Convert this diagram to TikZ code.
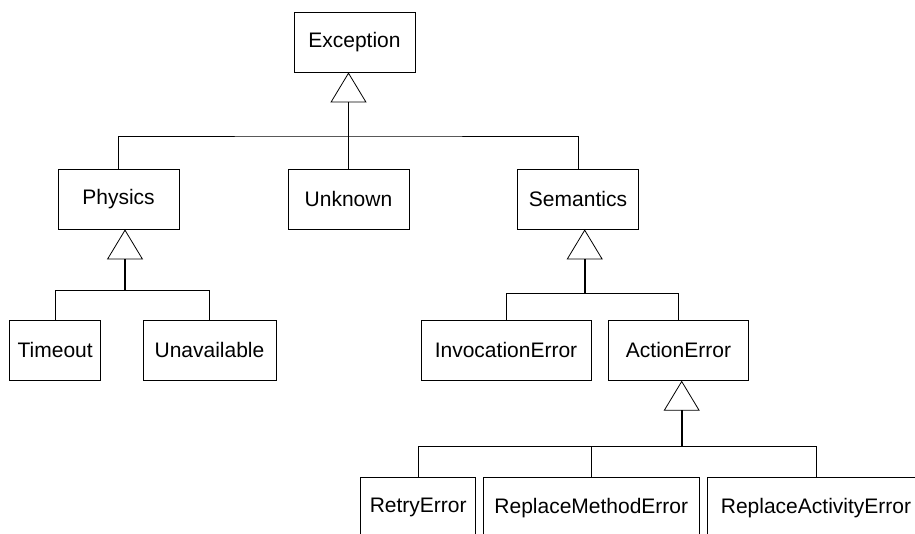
\documentclass[tikz,border=0pt]{standalone}
\usepackage{fontspec}
\setmainfont{Liberation Sans}
\usetikzlibrary{arrows.meta}
\tikzstyle{cls} = [draw=black, line width=0.6pt, rectangle, minimum height=45pt, inner sep=0pt, font={\fontsize{15.75}{18}\selectfont}]
\tikzstyle{bus} = [line width=0.6pt]
\tikzstyle{inh} = [line width=1.3pt, -{Triangle[open, width=27pt, length=22.5pt, line width=0.6pt]}]

\begin{document}
\begin{tikzpicture}[x=0.75pt, y=-0.75pt]
    \clip (0,0) rectangle (915,534);
    \fill[white] (0,0) rectangle (915,534);
    \node[cls, minimum width=90.75pt](exc) at (354.5,42){Exception};
    \node[cls, minimum width=90.75pt](phy) at (118.5,199){Physics};
    \node[cls, minimum width=90.75pt](unk) at (348.5,199){Unknown};
    \node[cls, minimum width=90.75pt](sem) at (578,199){Semantics};
    \node[cls, minimum width=68.25pt](tim) at (55.2,350.3){Timeout};
    \node[cls, minimum width=99.75pt](una) at (209.5,350.3){Unavailable};
    \node[cls, minimum width=127.5pt](inv) at (506,350.3){InvocationError};
    \node[cls, minimum width=104.7pt](act) at (678.5,350.3){ActionError};
    \node[cls, minimum width=86.25pt](ret) at (418.2,507.7){RetryError};
    \node[cls, minimum width=162pt](rme) at (591.3,507.7){ReplaceMethodError};
    \node[cls, minimum width=162.75pt](rac) at (816,507.7){ReplaceActivityError};
    % generalisation buses
    \coordinate (b0) at (348.5,136);
    \coordinate (b1) at (125,290.7);
    \coordinate (b2) at (584.7,293.3);
    \coordinate (b3) at (681.7,446.7);
    \draw[bus] (phy.north) |- (b0) -| (sem.north);
    \draw[bus] (unk.north) -- (b0);
    \draw[inh] (b0) -- (b0 |- exc.south);
    \draw[bus] (tim.north) |- (b1) -| (una.north);
    \draw[inh] (b1) -- (b1 |- phy.south);
    \draw[bus] (inv.north) |- (b2) -| (act.north);
    \draw[inh] (b2) -- (b2 |- sem.south);
    \draw[bus] (ret.north) |- (b3) -| (rac.north);
    \draw[bus] (rme.north) -- (rme.north |- b3);
    \draw[inh] (b3) -- (b3 |- act.south);
  \end{tikzpicture}
\end{document}
